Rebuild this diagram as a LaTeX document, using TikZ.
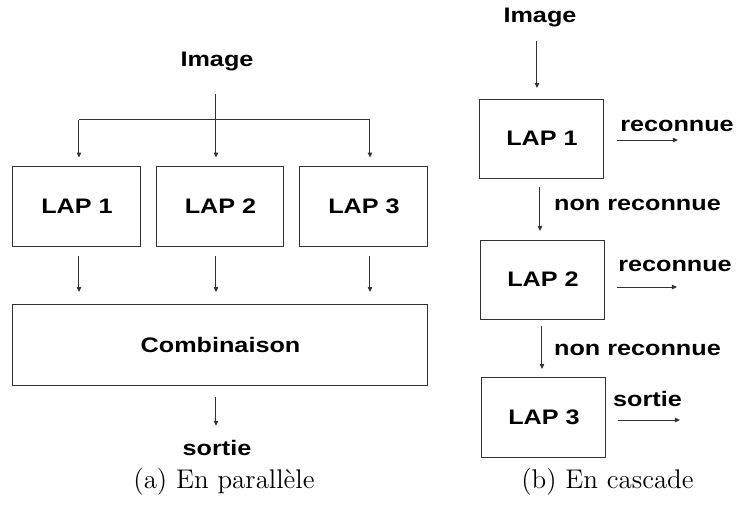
\documentclass[tikz,border=0pt]{standalone}
\usepackage{fontspec}
\newfontfamily\boxfont[FakeStretch=1.2]{Liberation Sans}
\usetikzlibrary{arrows.meta}

\begin{document}
\begin{tikzpicture}[x=0.5pt, y=-0.5pt, line width=0.5pt,
    lap/.style={draw=black!80, rectangle, minimum width=64pt, minimum height=40pt,
      inner sep=0pt, outer sep=0pt, font={\boxfont\bfseries\fontsize{10.5}{12}\selectfont}},
    lbl/.style={inner sep=0pt, font={\boxfont\bfseries\fontsize{10.5}{12}\selectfont}},
    legende/.style={inner sep=0pt, font={\fontsize{13.5}{16}\selectfont}},
    arr/.style={draw=black!80, -{Triangle[length=2.5pt,width=2.2pt]},
      shorten <=4.5pt, shorten >=4.5pt}]
      \useasboundingbox (0,0) rectangle (736,521);
      % en parallele
      \node[lbl] (imgA) at (217,61) {Image};
      \node[lap] (p1) at (77,206.5) {LAP 1};
      \node[lap, minimum width=63.5pt] (p2) at (220.5,206.5) {LAP 2};
      \node[lap] (p3) at (364,206.5) {LAP 3};
      \node[lap, minimum width=207.5pt, minimum height=40.5pt] (comb) at (220.5,344.5) {Combinaison};
      \node[lbl] (sortA) at (217,448) {sortie};
      \coordinate (fa1) at (79,119.5);
      \coordinate (fa2) at (216,119.5);
      \coordinate (fa3) at (370,119.5);
      \draw[black!80] (fa1) -- (fa3);
      \draw[arr, shorten <=0pt] (fa1) -- (fa1 |- p1.north);
      \draw[arr, shorten <=11.5pt] (imgA.south -| fa2) -- (fa2 |- p2.north);
      \draw[arr, shorten <=0pt] (fa3) -- (fa3 |- p3.north);
      \draw[arr, shorten >=6pt] (fa1 |- p1.south) -- (fa1 |- comb.north);
      \draw[arr, shorten >=6pt] (fa2 |- p2.south) -- (fa2 |- comb.north);
      \draw[arr, shorten >=6pt] (fa3 |- p3.south) -- (fa3 |- comb.north);
      \draw[arr, shorten <=6pt, shorten >=7pt] (fa2 |- comb.south) -- (fa2 |- sortA.north);
      \node[legende] (capA) at (224,482) {(a) En parall\`ele};
      % en cascade
      \node[lbl] (imgB) at (540,17) {Image};
      \node[lap, minimum width=62pt, minimum height=39.5pt] (q1) at (542,138.5) {LAP 1};
      \node[lap, minimum width=62pt, minimum height=39.5pt] (q2) at (543,279.5) {LAP 2};
      \node[lap, minimum width=62pt] (q3) at (544,417) {LAP 3};
      \coordinate (vb1) at (537,0);
      \coordinate (vb2) at (540,0);
      \coordinate (vb3) at (542,0);
      \draw[arr, shorten <=7pt, shorten >=5.5pt] (imgB.south -| vb1) -- (vb1 |- q1.north);
      \draw[arr] (q1.south -| vb2) -- (vb2 |- q2.north);
      \draw[arr, shorten <=3.5pt, shorten >=4pt] (q2.south -| vb3) -- (vb3 |- q3.north);
      \coordinate (r1) at (678,140);
      \coordinate (r2) at (677,287);
      \coordinate (r3) at (680,420);
      \draw[arr, shorten <=6.5pt, shorten >=0pt] (q1.east |- r1) -- (r1);
      \draw[arr, shorten <=6pt, shorten >=0pt] (q2.east |- r2) -- (r2);
      \draw[arr, shorten <=6pt, shorten >=0pt] (q3.east |- r3) -- (r3);
      \node[lbl] (rec1) at (677,126) {reconnue};
      \node[lbl] (rec2) at (675,266) {reconnue};
      \node[lbl] (sortB) at (647.5,399) {sortie};
      \node[lbl] (non1) at (637.5,205) {non reconnue};
      \node[lbl] (non2) at (637.5,350) {non reconnue};
      \node[legende] (capB) at (607.5,482) {(b) En cascade};
    \end{tikzpicture}
\end{document}
